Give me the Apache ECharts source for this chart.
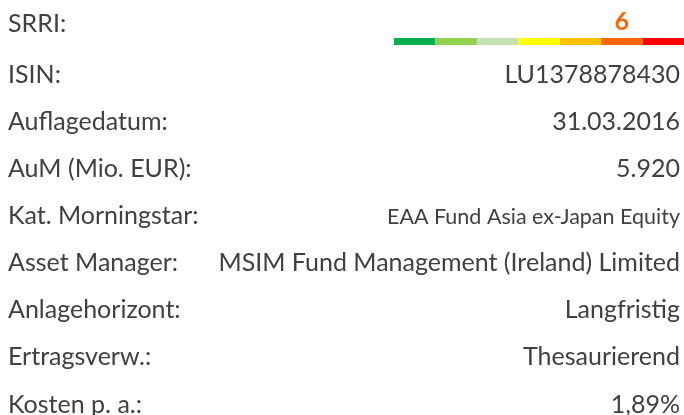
<!DOCTYPE html>
<html>
<head>
<meta charset="utf-8">
<script src="https://cdn.jsdelivr.net/npm/echarts@6/dist/echarts.min.js"></script>
<style>
  html, body { margin: 0; padding: 0; background: #fff; }
  #chart { width: 684px; height: 415px; }
</style>
</head>
<body>
<div id="chart"></div>
<script>
// Fondsdaten
var labels = ['SRRI:', 'ISIN:', 'Auflagedatum:', 'AuM (Mio. EUR):', 'Kat. Morningstar:',
  'Asset Manager:', 'Anlagehorizont:', 'Ertragsverw.:', 'Kosten p. a.:'];
var values = ['', 'LU1378878430', '31.03.2016', '5.920', 'EAA Fund Asia ex-Japan Equity',
  'MSIM Fund Management (Ireland) Limited', 'Langfristig', 'Thesaurierend', '1,89%'];
// SRRI-Skala 1..7
var srriClasses = [1, 2, 3, 4, 5, 6, 7];
var srriColors = ['#00b050', '#92d050', '#c6e0b4', '#ffff00', '#ffc000', '#ff6600', '#ff0000'];
var srriValue = 6;

var textColor = '#404040';
var fontFamily = 'Lato, "Open Sans", sans-serif';

var chart = echarts.init(document.getElementById('chart'));

// Zeilen als Text (Grundlinien)
var graphics = [];
labels.forEach(function (lab, i) {
  var base = i === 0 ? 31 : 82 + (i - 1) * 47.15;
  graphics.push({
    type: 'text', left: null, x: 8, y: base - 7.5,
    style: { text: lab, fill: textColor, font: '25px ' + fontFamily, align: 'left', verticalAlign: 'middle' }
  });
  if (values[i]) {
    var small = i === 4;
    graphics.push({
      type: 'text', x: 680, y: base - (small ? 6.5 : 7.5),
      style: { text: values[i], fill: textColor, font: (small ? '21.5px ' : '25px ') + fontFamily,
        align: 'right', verticalAlign: 'middle' }
    });
  }
});

var series = srriClasses.map(function (k, i) {
  return {
    name: 'SRRI ' + k,
    type: 'bar',
    stack: 'srri',
    barWidth: 7,
    silent: true,
    itemStyle: { color: srriColors[i] },
    label: {
      show: k === srriValue,
      position: 'top',
      distance: 4,
      formatter: String(srriValue),
      color: '#ff6600',
      fontFamily: fontFamily,
      fontWeight: 'bold',
      fontSize: 25
    },
    data: [1]
  };
});

chart.setOption({
  animation: false,
  grid: { left: 394, right: 0, top: 38, height: 7 },
  xAxis: { type: 'value', min: 0, max: srriClasses.length, show: false },
  yAxis: { type: 'category', data: ['SRRI'], show: false },
  series: series,
  graphic: graphics
});
</script>
</body>
</html>
